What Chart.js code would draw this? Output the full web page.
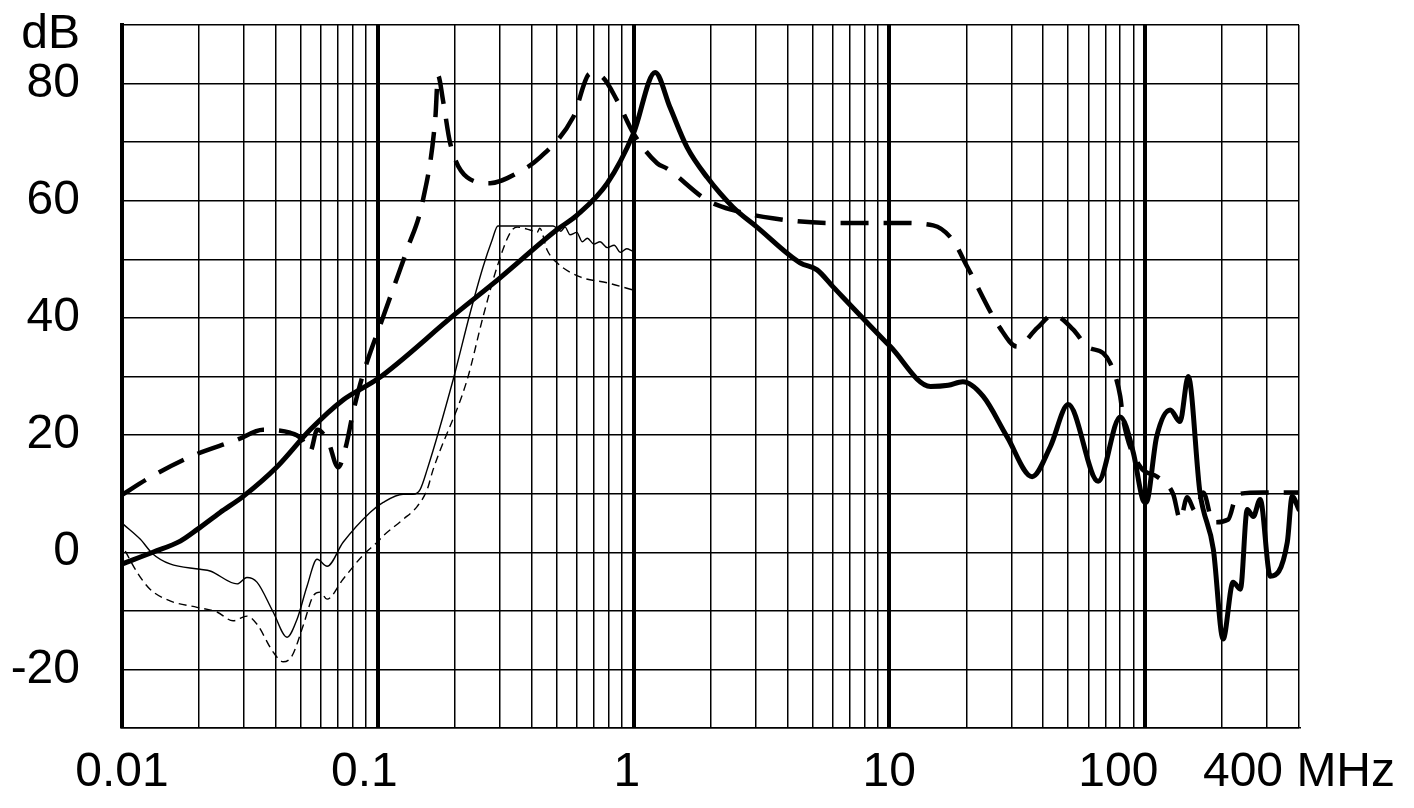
<!DOCTYPE html>
<html>
<head>
<meta charset="utf-8">
<script src="https://cdn.jsdelivr.net/npm/chart.js@4.4.0/dist/chart.umd.min.js"></script>
<style>
  html, body { margin: 0; padding: 0; background: #fff; }
  canvas { display: block; }
</style>
</head>
<body>
<canvas id="chart" width="1414" height="808"></canvas>
<script>
// frequency in MHz, level in dB
const thickSolidMHz = [0.01, 0.0132, 0.0169, 0.0197, 0.0242, 0.0297, 0.0404, 0.0544, 0.0732, 0.1, 0.2, 0.3, 0.5, 0.6, 0.79, 1.0, 1.215, 1.39, 1.62, 1.94, 2.45, 3.04, 4.48, 5.22, 6.03, 10.1, 14.5, 17, 19.4, 23.3, 28.9, 36.2, 42.6, 50.1, 65.6, 80, 90, 98, 101, 111, 125.5, 137, 147.6, 164, 185, 202, 221, 236, 251, 265, 282, 309, 360, 376, 400];
const thickSolidDb  = [-2, 0, 1.9, 3.9, 6.8, 9.5, 14.6, 20.9, 26, 29.6, 40.6, 46.8, 55, 57.5, 63, 71.5, 81.9, 75.9, 69.1, 64, 58.9, 55.5, 49.4, 48.2, 45.3, 35.1, 28.3, 28.5, 29.1, 26.6, 19.7, 12.9, 18, 25.2, 12.1, 23.1, 17, 9, 8.5, 19.7, 24.3, 22.3, 30, 10.2, 0.5, -14.8, -5.1, -6.3, 7.3, 6.1, 9, -4.1, 1.7, 9.5, 7.3];

const thickDashMHz = [0.01, 0.0129, 0.0185, 0.0282, 0.0356, 0.0454, 0.05, 0.0544, 0.058, 0.064, 0.07, 0.075, 0.08, 0.0868, 0.105, 0.13, 0.15, 0.168, 0.172, 0.18, 0.192, 0.2235, 0.275, 0.35, 0.431, 0.58, 0.677, 0.76, 0.863, 1.0, 1.237, 1.353, 1.94, 2.45, 3.5, 6.0, 11, 14.85, 17.7, 20.2, 27.1, 31.6, 37.9, 43.7, 52.4, 59.4, 68.6, 73.1, 80, 82.2, 95.8, 111.6, 128.9, 137.3, 146.2, 157.2, 168.9, 184.8, 211.5, 229.4, 290, 400];
const thickDashDb  = [9.8, 12.8, 16.3, 19.2, 20.9, 20.4, 19.5, 17.2, 20.9, 18.9, 14.5, 18, 23.8, 29.8, 40.2, 51.6, 60, 74.2, 81.4, 77.1, 69.8, 64, 63, 64.7, 67.4, 74.2, 81.7, 81, 77.1, 71.5, 66.4, 65.5, 60.1, 58.4, 57, 56.2, 56.2, 55.8, 53.3, 48.7, 38.3, 35.1, 38.3, 40.5, 38, 35.1, 34, 32.3, 26.6, 22.6, 14.6, 12.9, 9.9, 5.6, 9.4, 7, 10.2, 5.1, 5.6, 9.9, 10.2, 10.2];

const thinSolidMHz = [0.0101, 0.0118, 0.0132, 0.0154, 0.0202, 0.0221, 0.0282, 0.0308, 0.0337, 0.039, 0.0442, 0.0484, 0.0529, 0.0579, 0.0634, 0.0732, 0.0933, 0.105, 0.1256, 0.1374, 0.1464, 0.156, 0.197, 0.2296, 0.258, 0.28, 0.295, 0.485, 0.52, 0.54, 0.565, 0.6, 0.63, 0.66, 0.7, 0.74, 0.79, 0.84, 0.89, 0.94, 0.99];
const thinSolidDb  = [4.8, 2.2, -0.3, -2, -2.9, -3.2, -5.4, -4.3, -5.1, -10.2, -14.5, -11.4, -5.8, -1.2, -2.4, 1.7, 6.8, 8.5, 9.9, 9.9, 10.7, 14.1, 29.4, 40.8, 48.7, 53.3, 55.7, 55.7, 54.8, 55.5, 54.2, 54.6, 53, 53.6, 52.6, 53, 52, 52.4, 51.2, 51.8, 51.4];

const thinDashMHz = [0.0103, 0.01145, 0.01287, 0.01541, 0.01965, 0.02352, 0.02718, 0.03083, 0.03373, 0.03895, 0.04264, 0.04621, 0.05103, 0.05585, 0.05948, 0.06335, 0.07315, 0.0876, 0.1, 0.105, 0.1256, 0.1425, 0.156, 0.1646, 0.2235, 0.2581, 0.2928, 0.3292, 0.3506, 0.394, 0.42, 0.43, 0.4594, 0.5026, 0.6182, 0.7884, 0.99];
const thinDashDb  = [0.2, -3.4, -6.3, -8.3, -9.4, -10.2, -11.7, -10.9, -12.3, -17, -18.7, -17.7, -12.6, -7.5, -6.8, -8, -4.6, -0.5, 1.8, 2.8, 5.6, 7.8, 10.7, 14.1, 29.4, 40.2, 48.7, 54.5, 55.5, 55, 54.6, 55.3, 51.6, 49.4, 47, 46, 44.8];

// labels sit a little left of their grid line in the original, hence the trailing spaces
const xLabelValues = [0.01, 0.1, 1, 10, 100, 400];
const xLabelText   = ['0.01', '0.1  ', '1 ', '10', '100    ', '400 MHz'];
const yLabelValues = [80, 60, 40, 20, 0, -20];
const yUnit = 'dB';

const FONT = { family: "'Liberation Sans', Arial, sans-serif", size: 48 };

function toPoints(xs, ys) {
  return xs.map((x, i) => ({ x: x, y: ys[i] }));
}

function isDecade(v) {
  const l = Math.log10(v);
  return Math.abs(l - Math.round(l)) < 1e-6;
}

function near(a, b) {
  return Math.abs(a - b) < 1e-6 * Math.max(1, Math.abs(b));
}

// vertical grid: 1..9 in each decade, then 200, 300, 400
const xGrid = [];
for (let e = -2; e < 2; e++) {
  for (let k = 1; k < 10; k++) xGrid.push(+(k * Math.pow(10, e)).toPrecision(3));
}
xGrid.push(100, 200, 300, 400);

// horizontal grid every 10 dB
const yGrid = [];
for (let v = -30; v <= 90; v += 10) yGrid.push(v);

// unit label above the value axis
const unitLabel = {
  id: 'unitLabel',
  afterDraw(chart) {
    const y = chart.scales.y;
    const ctx = chart.ctx;
    ctx.save();
    ctx.font = FONT.size + 'px ' + FONT.family;
    ctx.fillStyle = '#000';
    ctx.textAlign = 'right';
    ctx.textBaseline = 'middle';
    ctx.fillText(yUnit, y.right - 42, y.getPixelForValue(90) + 10);
    ctx.restore();
  }
};

new Chart(document.getElementById('chart'), {
  type: 'line',
  data: {
    datasets: [
      {
        data: toPoints(thickSolidMHz, thickSolidDb),
        borderColor: '#000',
        borderWidth: 5,
        pointRadius: 0,
        cubicInterpolationMode: 'monotone',
        borderJoinStyle: 'round',
        borderCapStyle: 'round'
      },
      {
        data: toPoints(thickDashMHz, thickDashDb),
        borderColor: '#000',
        borderWidth: 4.5,
        borderDash: [28, 15],
        pointRadius: 0,
        cubicInterpolationMode: 'monotone',
        borderJoinStyle: 'round'
      },
      {
        data: toPoints(thinSolidMHz, thinSolidDb),
        borderColor: '#000',
        borderWidth: 1.4,
        pointRadius: 0,
        cubicInterpolationMode: 'monotone'
      },
      {
        data: toPoints(thinDashMHz, thinDashDb),
        borderColor: '#000',
        borderWidth: 1.4,
        borderDash: [8, 5],
        pointRadius: 0,
        cubicInterpolationMode: 'monotone'
      }
    ]
  },
  options: {
    responsive: false,
    animation: false,
    layout: { padding: { top: 25, right: 115, left: 0, bottom: 0 } },
    plugins: {
      legend: { display: false },
      tooltip: { enabled: false }
    },
    scales: {
      x: {
        type: 'logarithmic',
        min: 0.01,
        max: 400,
        afterBuildTicks: (scale) => { scale.ticks = xGrid.map(v => ({ value: v })); },
        afterFit: (scale) => {
          scale.height = 80;
          scale.paddingLeft = 0;
          scale.paddingRight = 0;
        },
        grid: {
          color: '#000',
          lineWidth: (c) => (c.tick && isDecade(c.tick.value)) ? 4 : 1.5,
          drawTicks: false
        },
        border: { color: '#000', width: 1.5 },
        ticks: {
          autoSkip: false,
          maxRotation: 0,
          padding: 16,
          color: '#000',
          font: FONT,
          callback: (value) => {
            const i = xLabelValues.findIndex(v => near(value, v));
            return i >= 0 ? xLabelText[i] : '';
          }
        }
      },
      y: {
        min: -30,
        max: 90,
        afterBuildTicks: (scale) => { scale.ticks = yGrid.map(v => ({ value: v })); },
        afterFit: (scale) => {
          scale.width = 122;
          scale.paddingTop = 0;
          scale.paddingBottom = 0;
        },
        grid: { color: '#000', lineWidth: 1.5, drawTicks: false },
        border: { color: '#000', width: 4 },
        ticks: {
          autoSkip: false,
          padding: 42,
          color: '#000',
          font: FONT,
          callback: (value) => yLabelValues.includes(value) ? String(value) : ''
        }
      }
    }
  },
  plugins: [unitLabel]
});
</script>
</body>
</html>
